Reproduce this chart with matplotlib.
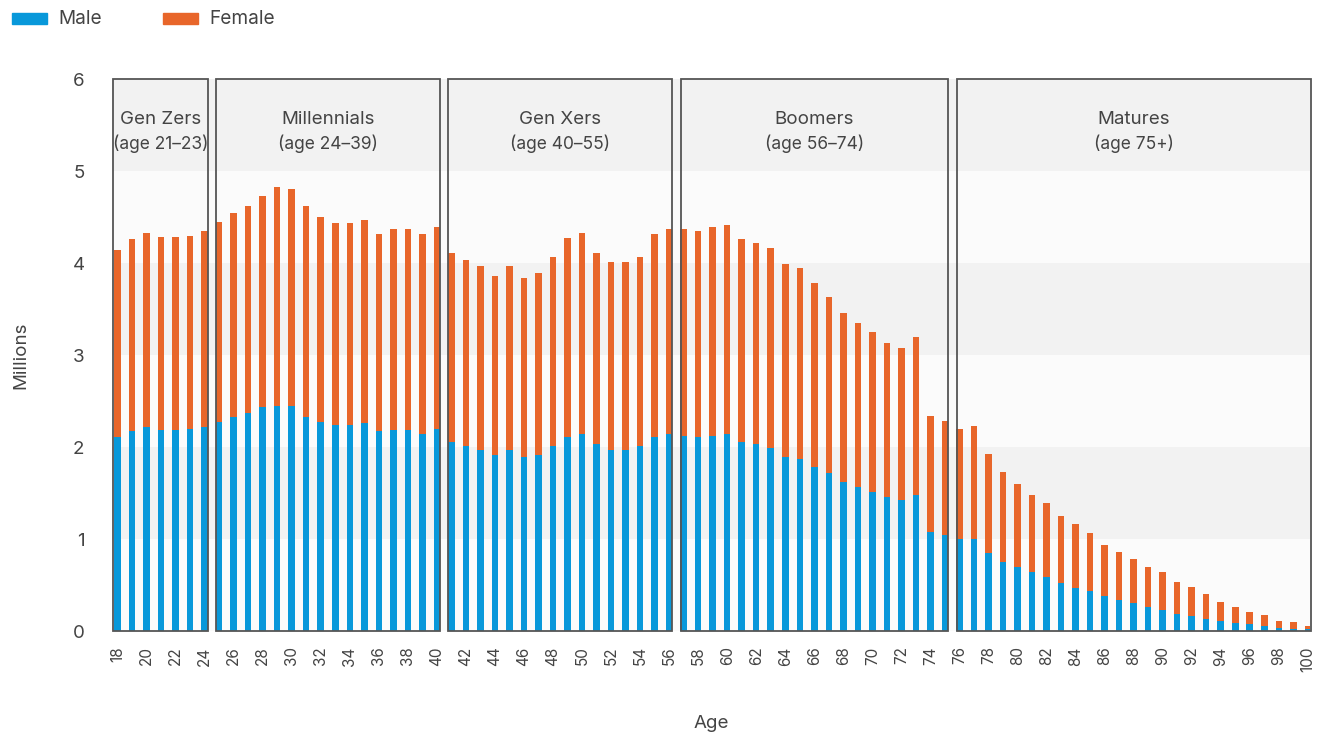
import numpy as np
import matplotlib
matplotlib.use('Agg')
from matplotlib import pyplot as plt
from matplotlib.patches import Rectangle

plt.rcParams['font.family'] = ['Inter', 'DejaVu Sans']

ages = np.arange(18, 101)

# total population (millions) by single year of age
total = [4.14, 4.26, 4.33, 4.28, 4.28, 4.29, 4.35,
         4.45, 4.54, 4.62, 4.73, 4.83, 4.80, 4.62, 4.50, 4.43, 4.43, 4.47, 4.32, 4.37, 4.37, 4.32, 4.39,
         4.105, 4.03, 3.97, 3.86, 3.97, 3.84, 3.895, 4.065, 4.275, 4.33, 4.105, 4.01, 4.01, 4.065, 4.315, 4.37,
         4.37, 4.35, 4.39, 4.41, 4.26, 4.22, 4.16, 3.99, 3.95, 3.78, 3.63, 3.455, 3.345, 3.25, 3.135, 3.075, 3.195, 2.335, 2.28,
         2.20, 2.225, 1.92, 1.73, 1.60, 1.48, 1.39, 1.255, 1.16, 1.065, 0.93, 0.855, 0.78, 0.70, 0.645,
         0.53, 0.475, 0.40, 0.32, 0.265, 0.207, 0.17, 0.112, 0.095, 0.054]

male = [2.105, 2.17, 2.22, 2.185, 2.185, 2.20, 2.22,
        2.275, 2.33, 2.37, 2.43, 2.45, 2.45, 2.33, 2.275, 2.24, 2.24, 2.26, 2.17, 2.185, 2.185, 2.145, 2.20,
        2.05, 2.01, 1.97, 1.91, 1.97, 1.895, 1.91, 2.01, 2.105, 2.145, 2.03, 1.97, 1.97, 2.01, 2.105, 2.145,
        2.125, 2.105, 2.125, 2.145, 2.05, 2.03, 1.99, 1.895, 1.875, 1.78, 1.72, 1.62, 1.565, 1.51, 1.46, 1.42, 1.48, 1.08, 1.04,
        1.00, 1.00, 0.85, 0.755, 0.70, 0.645, 0.587, 0.525, 0.47, 0.435, 0.377, 0.337, 0.30, 0.26, 0.225,
        0.19, 0.167, 0.13, 0.11, 0.09, 0.073, 0.054, 0.036, 0.018, 0.018]

female = np.array(total) - np.array(male)

gen_names = ['Gen Zers', 'Millennials', 'Gen Xers', 'Boomers', 'Matures']
gen_ranges = ['(age 21\u201323)', '(age 24\u201339)', '(age 40\u201355)', '(age 56\u201374)', '(age 75+)']
gen_first = [18, 25, 41, 57, 76]
gen_last = [24, 40, 56, 75, 100]

male_color = '#0898da'
female_color = '#e8662a'
text_color = '#444444'

fig = plt.figure(figsize=(13.28, 7.35), dpi=100)
ax = fig.add_axes([112.3 / 1328, 1 - 631 / 735, (1310 - 112.3) / 1328, (631 - 79) / 735])
x_left = 17.64
ax.set_xlim(x_left, 100.15)
ax.set_ylim(0, 6)

# alternating background bands
for lo in range(6):
    ax.axhspan(lo, lo + 1, color='#f2f2f2' if lo % 2 == 1 else '#fbfbfb', zorder=0, lw=0)

ax.bar(ages, male, width=0.45, color=male_color, zorder=2, label='Male')
ax.bar(ages, female, bottom=male, width=0.45, color=female_color, zorder=2, label='Female')

# generation boxes
for i, (name, rng, a0, a1) in enumerate(zip(gen_names, gen_ranges, gen_first, gen_last)):
    x0 = x_left + 0.02 if i == 0 else a0 - 0.2
    x1 = a1 + 0.22
    ax.add_patch(Rectangle((x0, 0), x1 - x0, 6, fill=False, edgecolor='#555555',
                           lw=1.3, zorder=3, clip_on=False))
    xc = (x0 + x1) / 2
    ax.text(xc, 5.565, name, ha='center', va='center', fontsize=13.5, color=text_color, zorder=4)
    ax.text(xc, 5.3, rng, ha='center', va='center', fontsize=12.5, color=text_color, zorder=4)

for s in ax.spines.values():
    s.set_visible(False)

ax.set_xticks(np.arange(18, 101, 2))
ax.set_xticklabels([str(a) for a in range(18, 101, 2)], rotation=90, fontsize=11, color=text_color)
ax.set_yticks(range(7))
ax.set_yticklabels([str(v) for v in range(7)], fontsize=13.5, color=text_color)
ax.tick_params(axis='both', length=0)
ax.tick_params(axis='x', pad=11)
ax.tick_params(axis='y', pad=20)

ax.set_xlabel('Age', fontsize=13.5, color=text_color, labelpad=31)
ax.set_ylabel('Millions', fontsize=13.5, color=text_color, labelpad=31)

# legend drawn at top-left
fig.patches.append(Rectangle((12 / 1328, 1 - 24 / 735), 35 / 1328, 11 / 735,
                             transform=fig.transFigure, color=male_color))
fig.text(58 / 1328, 1 - 19.5 / 735, 'Male', fontsize=13.7, color=text_color, va='center')
fig.patches.append(Rectangle((163 / 1328, 1 - 24 / 735), 35 / 1328, 11 / 735,
                             transform=fig.transFigure, color=female_color))
fig.text(209 / 1328, 1 - 19.5 / 735, 'Female', fontsize=13.7, color=text_color, va='center')

fig.savefig('out.png', dpi=100)
plt.close()
